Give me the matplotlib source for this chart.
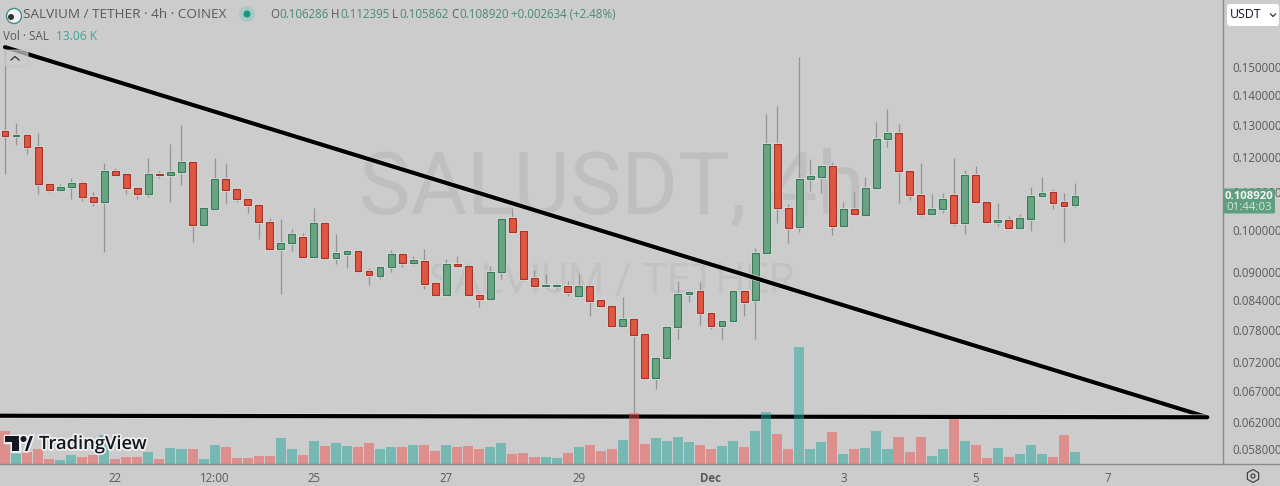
"""SALUSDT 4h candles with volume and hand-drawn trend lines."""
import matplotlib
matplotlib.use("Agg")
import numpy as np
import matplotlib.pyplot as plt
import matplotlib.patheffects as pe
from matplotlib.patches import Circle, FancyBboxPatch, Polygon, RegularPolygon

plt.rcParams["font.family"] = ["Open Sans", "DejaVu Sans"]

opens = [.1279, .1263, .1267, .1229, .1122, .1105, .1113, .1124, .1086, .1072,
         .1158, .1149, .1110, .1094, .1149, .1147, .1155, .1184, .1013, .1054,
         .1135, .1107, .1080, .1064, .1020, .0954, .0968, .0983, .0935, .1018,
         .0933, .0942, .0949, .0903, .0892, .0912, .0942, .0921, .0926, .0877,
         .0851, .0919, .0915, .0851, .0842, .0901, .1030, .0998, .0888, .0870,
         .0870, .0870, .0849, .0870, .0840, .0828, .0788, .0802, .0772, .0692,
         .0727, .0786, .0853, .0859, .0814, .0788, .0798, .0859, .0840, .0945,
         .1239, .1056, .1008, .1135, .1141, .1172, .1010, .1054, .1038, .1110,
         .1254, .1273, .1158, .1091, .1041, .1054, .1091, .1018, .1147, .1072,
         .1020, .1025, .1005, .1028, .1088, .1099, .1072, .106286]
highs = [.1572, .1305, .1267, .1273, .1124, .1122, .1138, .1130, .1099, .1181,
         .1167, .1152, .1113, .1196, .1158, .1239, .1298, .1184, .1059, .1196,
         .1181, .1110, .1083, .1067, .1030, .1028, .1003, .0993, .1056, .1020,
         .0990, .0949, .0952, .0910, .0912, .0952, .0945, .0938, .0954, .0879,
         .0931, .0938, .0915, .0855, .0915, .1028, .1056, .0998, .0905, .0896,
         .0877, .0881, .0896, .0870, .0842, .0828, .0847, .0802, .0772, .0727,
         .0788, .0881, .0859, .0879, .0816, .0798, .0859, .0861, .0956, .1334,
         .1361, .1067, .1538, .1193, .1172, .1184, .1072, .1099, .1141, .1308,
         .1351, .1302, .1158, .1181, .1094, .1097, .1196, .1161, .1172, .1075,
         .1070, .1036, .1041, .1113, .1141, .1107, .1097, .112395]
lows = [.1149, .1236, .1208, .1094, .1099, .1105, .1080, .1075, .1062, .0947,
        .1144, .1094, .1080, .1086, .1138, .1072, .1119, .0971, .1013, .1054,
        .1067, .1072, .1043, .0978, .0954, .0853, .0949, .0935, .0935, .0933,
        .0919, .0910, .0899, .0872, .0885, .0901, .0912, .0917, .0863, .0851,
        .0851, .0912, .0851, .0826, .0842, .0885, .0995, .0881, .0870, .0868,
        .0863, .0849, .0849, .0808, .0826, .0788, .0788, .0634, .0692, .0673,
        .0727, .0763, .0836, .0790, .0782, .0761, .0798, .0808, .0763, .0945,
        .1018, .0968, .0995, .1102, .1097, .0988, .1010, .1041, .1038, .1110,
        .1229, .1070, .1078, .1036, .1038, .1043, .1010, .0990, .1072, .1018,
        .1010, .1005, .1005, .0998, .1088, .1054, .0971, .105862]
closes = [.1263, .1267, .1229, .1122, .1105, .1113, .1124, .1086, .1072, .1158,
          .1147, .1110, .1094, .1149, .1147, .1155, .1184, .1013, .1056, .1135,
          .1105, .1080, .1064, .1020, .0954, .0968, .0990, .0935, .1018, .0933,
          .0945, .0949, .0903, .0894, .0912, .0942, .0921, .0928, .0875, .0851,
          .0919, .0915, .0851, .0842, .0901, .1028, .0995, .0885, .0870, .0872,
          .0872, .0857, .0870, .0838, .0828, .0788, .0802, .0770, .0692, .0727,
          .0786, .0853, .0857, .0814, .0788, .0798, .0859, .0836, .0945, .1239,
          .1056, .1005, .1135, .1144, .1172, .1010, .1054, .1041, .1110, .1254,
          .1273, .1158, .1091, .1041, .1054, .1080, .1018, .1147, .1072, .1020,
          .1025, .1005, .1030, .1088, .1097, .1070, .1062, .108920]
volumes_k = [37.7, 13.5, 13.5, 16.5, 5.0, 4.2, 9.6, 7.7, 9.6, 32.7,
             5.0, 7.7, 7.7, 13.5, 5.0, 17.7, 16.2, 16.2, 5.0, 21.9,
             19.6, 5.8, 6.9, 9.2, 8.5, 29.2, 16.2, 9.6, 25.4, 20.0,
             24.2, 20.4, 19.2, 23.5, 16.2, 19.2, 18.5, 21.2, 21.2, 14.2,
             21.9, 18.5, 20.0, 16.9, 19.2, 23.5, 10.4, 11.9, 7.7, 7.7,
             6.2, 11.9, 19.2, 20.8, 14.2, 16.2, 26.9, 58.5, 22.7, 29.2,
             26.2, 30.0, 24.6, 20.8, 16.2, 20.0, 26.2, 18.8, 37.7, 59.2,
             33.5, 16.9, 134.2, 16.2, 24.6, 36.9, 11.2, 16.9, 17.7, 37.7,
             16.9, 30.4, 13.1, 30.4, 8.5, 16.2, 50.8, 25.8, 21.9, 6.9,
             17.7, 7.7, 10.4, 21.9, 11.2, 7.7, 32.7, 13.06]

price_ticks = [.15, .14, .13, .12, .11, .10, .09, .084, .078, .072, .067, .062, .058]
time_tick_pos = [10, 19, 28, 40, 52, 64, 76, 88, 100]
time_tick_labels = ["22", "12:00", "25", "27", "29", "Dec", "3", "5", "7"]

# trend lines, (bar index, price)
falling_x = [0, 109]
falling_y = [.1576, .06276]
floor_x = [-0.5, 109]
floor_y = [.0630, .06276]

BG = "#cccccc"
UP, UP_EDGE = "#69a583", "#3b7a5b"
DOWN, DOWN_EDGE = "#df5741", "#a5342a"
AXIS_LINE = "#8a8a8a"
TEXT = "#5a5a5a"

o, h, l, c = map(np.array, (opens, highs, lows, closes))
x = np.arange(len(o))
is_up = c >= o

fig = plt.figure(figsize=(12.8, 4.86), dpi=100, facecolor=BG)
ax = fig.add_axes([0, 22.5 / 486, 1222.5 / 1280, 463.5 / 486], facecolor=BG)
ax.set_yscale("log")
ax.set_xlim(-0.453, 110.37)
ax.set_ylim(.05594, .1772)

# watermark sits under everything
ax.text(612 / 1280, 1 - 189 / 486, "SALUSDT, 4h", transform=fig.transFigure, ha="center", va="center",
        fontsize=62.5, family="Roboto", color="#bfbfbf", zorder=0)
ax.text(612 / 1280, 1 - 281 / 486, "SALVIUM / TETHER", transform=fig.transFigure, ha="center", va="center",
        fontsize=30, family="Roboto", color="#c2c2c2", zorder=0)

ax.vlines(x, l, h, color="#949494", lw=0.9, zorder=2)
for mask, fc, ec in [(is_up, UP, UP_EDGE), (~is_up, DOWN, DOWN_EDGE)]:
    bottoms = np.minimum(o, c)[mask]
    heights = np.abs(c - o)[mask]
    bars = ax.bar(x[mask], heights, bottom=bottoms, width=0.62, color=fc,
                  edgecolor=ec, linewidth=0.85, zorder=3)
    for b in bars:
        b.set_path_effects([pe.Stroke(linewidth=2.2, foreground="#dadada"), pe.Normal()])

for xs, ys in [(falling_x, falling_y), (floor_x, floor_y)]:
    ax.plot(xs, ys, color="black", lw=3.0, solid_capstyle="round", zorder=4,
            path_effects=[pe.Stroke(linewidth=4.0, foreground="#dcdcdc"), pe.Normal()])

# volume pane on the same bars, half transparent over the trend lines
ax_vol = ax.twinx()
ax_vol.set_ylim(0, 534.8)
ax_vol.axis("off")
vol_colors = ["#26a69a" if up else "#ef5350" for up in is_up]
ax_vol.bar(x, volumes_k, width=0.91, color=vol_colors, alpha=0.5, linewidth=0)

# twinx puts the price scale back on the left, so set it up afterwards
ax.set_yticks(price_ticks)
ax.set_yticklabels([f"{p:.6f}" for p in price_ticks])
ax.minorticks_off()
ax.yaxis.tick_right()
ax.tick_params(axis="y", length=0, pad=7, labelsize=8.3, labelcolor=TEXT)
ax.set_xticks(time_tick_pos)
ax.set_xticklabels(time_tick_labels)
ax.tick_params(axis="x", length=0, pad=6, labelsize=8.3, labelcolor=TEXT)
for lab in ax.get_xticklabels():
    if lab.get_text() == "Dec":
        lab.set_fontweight("bold")
for side in ("top", "left"):
    ax.spines[side].set_visible(False)
for side in ("right", "bottom"):
    ax.spines[side].set_color(AXIS_LINE)
    ax.spines[side].set_linewidth(1.0)

# chart chrome, in pixels
ui = fig.add_axes([0, 0, 1, 1], facecolor="none")
ui.set_xlim(0, 1280)
ui.set_ylim(486, 0)
ui.axis("off")

ui.plot([1222.5, 1280], [463.5, 463.5], color=AXIS_LINE, lw=1.0)

# symbol icon and status dot
ui.add_patch(Circle((14, 16), 7.5, fc="#f2f2f2", ec="#3f8f8a", lw=1))
ui.add_patch(Circle((11, 17), 3, fc="#333333", ec="none"))
ui.add_patch(Circle((247, 14), 8, fc="#abc9c2", ec="none"))
ui.add_patch(Circle((247, 14), 3.5, fc="#0b9a7f", ec="none"))

ui.text(23, 15, "SALVIUM / TETHER · 4h · COINEX", fontsize=9.7, color=TEXT, va="center")

ohlc_parts = [(270, "O", TEXT), (279, "0.106286", "#4d8a6f"),
              (331, "H", TEXT), (340, "0.112395", "#4d8a6f"),
              (392, "L", TEXT), (399, "0.105862", "#4d8a6f"),
              (451, "C", TEXT), (459, "0.108920", "#4d8a6f"),
              (511, "+0.002634 (+2.48%)", "#4d8a6f")]
for px, s, col in ohlc_parts:
    ui.text(px, 15, s, fontsize=8.3, color=col, va="center")

ui.text(3, 36, "Vol · SAL", fontsize=8.4, color=TEXT, va="center")
ui.text(56, 36, "13.06 K", fontsize=8.6, color="#3aa79c", va="center")

# collapse button over the start of the trend line
ui.add_patch(FancyBboxPatch((4, 50), 24, 16, boxstyle="round,pad=0,rounding_size=2",
                            fc="#cccccc", ec="#c2c2cc", lw=0.8, alpha=0.72))
ui.plot([11, 15, 19], [60, 56.5, 60], color="#333333", lw=0.9)

# TradingView logo
main_mark = Polygon([(5, 436), (19, 436), (19, 451), (12, 451), (12, 442), (5, 442)],
                    closed=True, fc="#131722", ec="none", zorder=6)
slash = Polygon([(25, 451), (27, 444), (30, 436), (33, 436), (27.5, 451)],
                closed=True, fc="#131722", ec="none", zorder=6)
dot = Circle((23.5, 439), 3, fc="#131722", ec="none", zorder=6)
for art in (main_mark, slash, dot):
    ui.add_patch(art)
    art.set_path_effects([pe.Stroke(linewidth=2.5, foreground="#efefef"), pe.Normal()])
ui.text(39, 444, "TradingView", fontsize=13.2, fontweight="semibold", color="#131722",
        va="center", zorder=6, path_effects=[pe.withStroke(linewidth=2.5, foreground="#f0f0f0")])

# last price tag
ui.add_patch(FancyBboxPatch((1223, 188.5), 52, 25, boxstyle="round,pad=0,rounding_size=1.5",
                            fc="#5f9f80", ec="none", zorder=5))
ui.text(1249, 196, "0.108920", fontsize=8.2, fontweight="bold", color="#f4f4f4",
        ha="center", va="center", zorder=6)
ui.text(1249, 207, "01:44:03", fontsize=8.2, color="#d6e6de", ha="center", va="center", zorder=6)

# currency selector
ui.add_patch(FancyBboxPatch((1227, 4), 52, 22, boxstyle="round,pad=0,rounding_size=3",
                            fc="white", ec="none"))
ui.text(1230, 15, "USDT", fontsize=8.9, color="#131722", va="center")
ui.plot([1270.5, 1273, 1275.5], [14, 16.5, 14], color="#333333", lw=0.9)

# settings hexagon
ui.add_patch(RegularPolygon((1253, 476), 6, radius=6.5, fc="none", ec="#444444", lw=0.9))
ui.add_patch(Circle((1253, 476), 2, fc="none", ec="#444444", lw=0.9))

fig.savefig("out.png", dpi=100, facecolor=BG)
